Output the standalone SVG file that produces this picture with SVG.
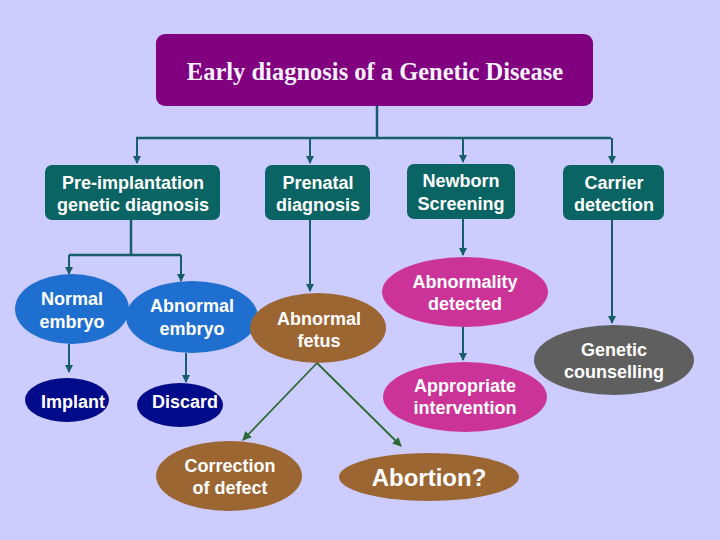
<svg xmlns="http://www.w3.org/2000/svg" width="720" height="540" viewBox="0 0 720 540">
<defs>
<marker id="ah" markerWidth="8" markerHeight="8" refX="7" refY="4" orient="auto" markerUnits="userSpaceOnUse"><path d="M0,0 L8,4 L0,8 z" fill="#155E6A"/></marker>
<marker id="ahg" markerWidth="9" markerHeight="9" refX="8" refY="4.5" orient="auto" markerUnits="userSpaceOnUse"><path d="M0,0 L9,4.5 L0,9 z" fill="#2B6A33"/></marker>
<style>
.t{font-family:"Liberation Sans",Arial,sans-serif;font-weight:bold;font-size:18px;fill:#fff;text-anchor:middle}
.box{fill:#0B6464}
.c{stroke:#155E6A;stroke-width:2.5;fill:none}
.ca{stroke:#155E6A;stroke-width:2;fill:none;marker-end:url(#ah)}
.g{stroke:#2B6A33;stroke-width:1.8;fill:none;marker-end:url(#ahg)}
.blue{fill:#1E6FD0}
.navy{fill:#020B8A}
.brown{fill:#9C6633}
.mag{fill:#CC3399}
.grey{fill:#5F5F5F}
</style>
</defs>
<rect width="720" height="540" fill="#CCCCFF"/>
<g id="connectors">
<path class="c" d="M377,106 V138 M136,138 H611"/>
<path class="ca" d="M137,138 V163"/>
<path class="ca" d="M310,138 V163"/>
<path class="ca" d="M463,138 V162"/>
<path class="ca" d="M612,138 V163"/>
<path class="c" d="M131,220 V255 M69,255 H181"/>
<path class="ca" d="M69,255 V274"/>
<path class="ca" d="M181,255 V281"/>
<path class="ca" d="M310,220 V291"/>
<path class="ca" d="M463,219 V255"/>
<path class="ca" d="M612,220 V323"/>
<path class="ca" d="M69,344 V372"/>
<path class="ca" d="M186,353 V382"/>
<path class="ca" d="M463,327 V360"/>
<path class="g" d="M317,363 L243,440"/>
<path class="g" d="M317,363 L401,446"/>
</g>
<g id="title"><rect x="156" y="34" width="437" height="72" rx="9" fill="#800080"/>
<text x="375" y="80" text-anchor="middle" font-family="'Liberation Serif','Times New Roman',serif" font-weight="bold" font-size="24.5" fill="#F8F0FF">Early diagnosis of a Genetic Disease</text></g>
<g id="pgd"><rect class="box" x="45" y="165" width="175" height="55" rx="7"/><text class="t" x="133" y="189">Pre-implantation</text><text class="t" x="133" y="211">genetic diagnosis</text></g>
<g id="prenatal"><rect class="box" x="265" y="165" width="105" height="55" rx="7"/><text class="t" x="318" y="189">Prenatal</text><text class="t" x="318" y="211">diagnosis</text></g>
<g id="newborn"><rect class="box" x="407" y="164" width="108" height="55" rx="7"/><text class="t" x="461" y="187">Newborn</text><text class="t" x="461" y="210">Screening</text></g>
<g id="carrier"><rect class="box" x="563" y="165" width="101" height="55" rx="7"/><text class="t" x="614" y="189">Carrier</text><text class="t" x="614" y="211">detection</text></g>
<g id="normal"><ellipse class="blue" cx="72" cy="309" rx="57" ry="35"/><text class="t" x="72" y="305">Normal</text><text class="t" x="72" y="328">embryo</text></g>
<g id="abembryo"><ellipse class="blue" cx="192" cy="317" rx="66" ry="36"/><text class="t" x="192" y="312">Abnormal</text><text class="t" x="192" y="335">embryo</text></g>
<g id="abfetus"><ellipse class="brown" cx="318" cy="328" rx="68" ry="35"/><text class="t" x="319" y="325">Abnormal</text><text class="t" x="319" y="347">fetus</text></g>
<g id="implant"><ellipse class="navy" cx="67" cy="400" rx="42" ry="22"/><text class="t" x="73" y="408">Implant</text></g>
<g id="discard"><ellipse class="navy" cx="180" cy="405" rx="43" ry="22"/><text class="t" x="185" y="408">Discard</text></g>
<g id="abdetected"><ellipse class="mag" cx="465" cy="292" rx="83" ry="35"/><text class="t" x="465" y="288">Abnormality</text><text class="t" x="465" y="310">detected</text></g>
<g id="intervention"><ellipse class="mag" cx="465" cy="397" rx="82" ry="35"/><text class="t" x="465" y="392">Appropriate</text><text class="t" x="465" y="414">intervention</text></g>
<g id="counselling"><ellipse class="grey" cx="614" cy="360" rx="80" ry="35"/><text class="t" x="614" y="356">Genetic</text><text class="t" x="614" y="378">counselling</text></g>
<g id="correction"><ellipse class="brown" cx="229" cy="476" rx="73" ry="35"/><text class="t" x="230" y="472">Correction</text><text class="t" x="230" y="494">of defect</text></g>
<g id="abortion"><ellipse class="brown" cx="429" cy="477" rx="90" ry="24"/><text class="t" x="429" y="486" style="font-size:24px">Abortion?</text></g>
</svg>
